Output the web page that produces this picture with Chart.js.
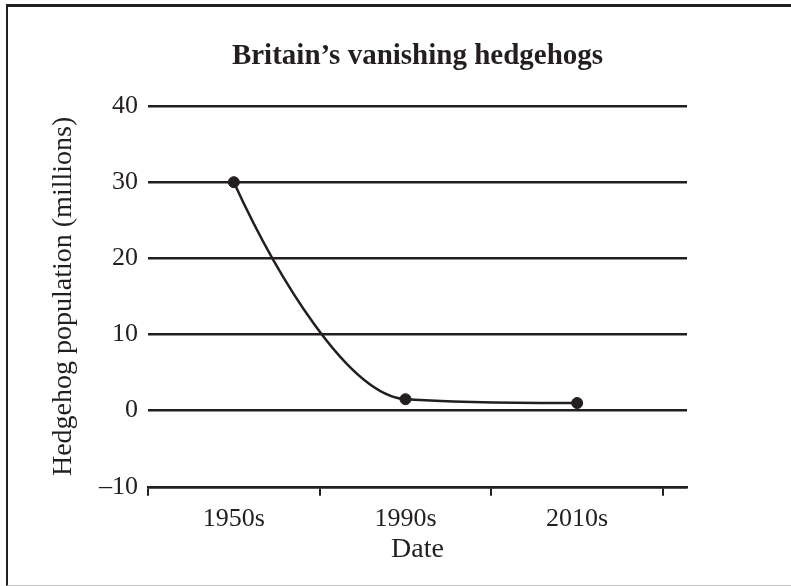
<!DOCTYPE html>
<html>
<head>
<meta charset="utf-8">
<script src="https://cdn.jsdelivr.net/npm/chart.js@4/dist/chart.umd.min.js"></script>
<style>
  html, body { margin: 0; padding: 0; background: #fff; }
  #wrap { position: relative; width: 791px; height: 586px; overflow: hidden; }
  #frame {
    position: absolute; left: 6px; top: 4px; width: 800px; height: 578px;
    border-left: 2.5px solid #231f20; border-top: 3px solid #231f20;
    border-bottom: 1px solid #c4c4c4; pointer-events: none;
  }
</style>
</head>
<body>
<div id="wrap">
  <canvas id="hedgehogChart" width="791" height="586"></canvas>
  <div id="frame"></div>
</div>
<script>
// datos
const categories = ['1950s', '1990s', '2010s'];
const population = [30, 1.5, 1]; // millones
const yTicks = [-10, 0, 10, 20, 30, 40];

const ink = '#231f20';
const serif = 'Liberation Serif, Times New Roman, serif';

// limites entre categorias para las marcas del eje x
const boundaries = categories.map((c, i) => i - 0.5).concat([categories.length - 0.5]);

// la curva original cae mas empinada al principio que la monotone de Chart.js
const steepStart = {
    id: 'steepStart',
    beforeDatasetsDraw(chart) {
        const meta = chart.getDatasetMeta(0);
        meta.dataset.updateControlPoints(chart.chartArea, 'x');
        const p = meta.data[0];
        p.cp2x = p.x + (p.cp2x - p.x) * 0.74;
        p.cp2y = p.y + (p.cp2y - p.y) * 1.28;
    }
};

const ctx = document.getElementById('hedgehogChart').getContext('2d');
new Chart(ctx, {
    type: 'line',
    data: {
        datasets: [{
            data: population.map((v, i) => ({ x: i, y: v })),
            borderColor: ink,
            borderWidth: 2.5,
            backgroundColor: ink,
            pointBackgroundColor: ink,
            pointBorderColor: ink,
            pointRadius: 5.5,
            pointBorderWidth: 1,
            cubicInterpolationMode: 'monotone',
            fill: false
        }]
    },
    plugins: [steepStart],
    options: {
        responsive: false,
        animation: false,
        events: [],
        layout: { padding: { left: 0, right: 104, top: 0, bottom: 0 } },
        plugins: {
            legend: { display: false },
            title: { display: false },
            tooltip: { enabled: false }
        },
        scales: {
            xTop: {
                type: 'linear',
                position: 'top',
                weight: 0,
                min: -0.5,
                max: 2.64,
                grid: { display: false, drawTicks: false },
                border: { display: false },
                ticks: { display: false },
                title: {
                    display: true,
                    text: 'Britain\u2019s vanishing hedgehogs',
                    color: ink,
                    font: { family: serif, size: 29, weight: 'bold' },
                    padding: { top: 39, bottom: 32.2 }
                }
            },
            x: {
                type: 'linear',
                position: 'bottom',
                weight: 0,
                min: -0.5,
                max: 2.64,
                afterBuildTicks: axis => { axis.ticks = boundaries.map(v => ({ value: v })); },
                grid: {
                    drawOnChartArea: false,
                    drawTicks: true,
                    tickLength: 9,
                    color: ink,
                    lineWidth: 2
                },
                border: { display: true, color: ink, width: 2.5 },
                ticks: { display: false }
            },
            x2: {
                type: 'linear',
                position: 'bottom',
                weight: 1,
                min: -0.5,
                max: 2.64,
                afterBuildTicks: axis => { axis.ticks = categories.map((c, i) => ({ value: i })); },
                grid: { display: false, drawTicks: false },
                border: { display: false },
                ticks: {
                    color: ink,
                    padding: 7.4,
                    maxRotation: 0,
                    font: { family: serif, size: 26 },
                    callback: v => categories[v]
                },
                title: {
                    display: true,
                    text: 'Date',
                    color: ink,
                    font: { family: serif, size: 28 },
                    padding: { top: -9, bottom: 19.6 }
                }
            },
            y: {
                min: -10,
                max: 40,
                afterBuildTicks: axis => { axis.ticks = yTicks.map(v => ({ value: v })); },
                grid: { color: ink, lineWidth: 2.5, drawTicks: false },
                border: { display: false },
                ticks: {
                    color: ink,
                    padding: 10,
                    font: { family: serif, size: 26 },
                    callback: v => v < 0 ? '\u2013' + Math.abs(v) : String(v)
                },
                title: {
                    display: true,
                    text: 'Hedgehog population (millions)',
                    color: ink,
                    font: { family: serif, size: 28 },
                    padding: { top: 46.8, bottom: 8.6 }
                }
            }
        }
    }
});
</script>
</body>
</html>
